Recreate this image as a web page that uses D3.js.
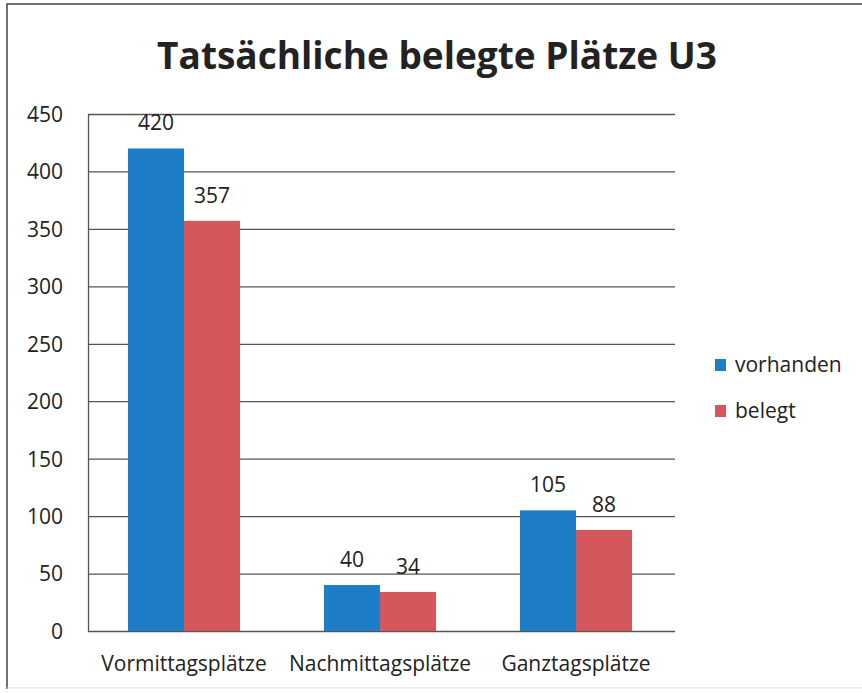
<!DOCTYPE html>
<html><head><meta charset="utf-8">
<script src="https://cdn.jsdelivr.net/npm/d3@7"></script>
<style>body{margin:0;background:#fff}svg{display:block}text{font-family:"Open Sans",Lato,sans-serif;fill:#222}</style>
</head><body><svg id="c" width="862" height="693"></svg>
<script>
const categories = ["Vormittagsplätze", "Nachmittagsplätze", "Ganztagsplätze"];
const seriesNames = ["vorhanden", "belegt"];
const vorhanden = [420, 40, 105];
const belegt = [357, 34, 88];
const yTicks = [0, 50, 100, 150, 200, 250, 300, 350, 400, 450];
const title = "Tatsächliche belegte Plätze U3";

const colors = {vorhanden: "#1d7dc7", belegt: "#d4575c"};
const FONT = "Open Sans";
const FS = 21;
const svg = d3.select("#c");

// outer frame (scan border)
svg.append("path").attr("d", "M7,689 V4 H862").attr("fill", "none").attr("stroke", "#444").attr("stroke-width", 1.5);
svg.append("line").attr("x1", 7).attr("x2", 862).attr("y1", 688).attr("y2", 688).attr("stroke", "#ddd").attr("stroke-width", 1);

const x = d3.scaleBand().domain(categories).range([86, 674]).paddingInner(0).paddingOuter(0);
const xs = d3.scaleBand().domain(seriesNames).range([0, x.bandwidth()]).paddingInner(0).paddingOuter(0.75);
const y = d3.scaleLinear().domain([0, 450]).range([631, 114]);

// gridlines
svg.append("g").selectAll("line").data(yTicks).join("line")
  .attr("x1", 88).attr("x2", 675)
  .attr("y1", d => y(d) + 0.5).attr("y2", d => y(d) + 0.5)
  .attr("stroke", "#555").attr("stroke-width", 1.3);
// vertical axis
svg.append("line").attr("x1", 88.5).attr("x2", 88.5).attr("y1", y(450)).attr("y2", y(0))
  .attr("stroke", "#555").attr("stroke-width", 1.3);

// y axis labels
const yAxis = d3.axisLeft(y).tickValues(yTicks).tickSize(0).tickPadding(0);
const gy = svg.append("g").attr("transform", "translate(63,0)").call(yAxis);
gy.select(".domain").remove();
gy.selectAll("text").attr("font-size", FS).attr("font-family", FONT).attr("fill", "#222").attr("dy", "0.35em");

// bars
const rows = categories.map((c, i) => ({cat: c, vals: [{s: "vorhanden", v: vorhanden[i]}, {s: "belegt", v: belegt[i]}]}));
const g = svg.append("g").selectAll("g").data(rows).join("g")
  .attr("transform", d => `translate(${x(d.cat)},0)`);
g.selectAll("rect").data(d => d.vals).join("rect")
  .attr("x", d => xs(d.s)).attr("width", xs.bandwidth())
  .attr("y", d => y(d.v)).attr("height", d => y(0) - y(d.v))
  .attr("fill", d => colors[d.s]);
g.selectAll("text.lab").data(d => d.vals).join("text").attr("class", "lab")
  .attr("x", d => xs(d.s) + xs.bandwidth() / 2).attr("y", d => y(d.v) - 18)
  .attr("text-anchor", "middle").attr("font-size", FS).text(d => d.v);

// x axis labels
const xAxis = d3.axisBottom(x).tickSize(0).tickPadding(0);
const gx = svg.append("g").attr("transform", "translate(0,656)").call(xAxis);
gx.select(".domain").remove();
gx.selectAll("text").attr("font-size", FS).attr("font-family", FONT).attr("fill", "#222").attr("dy", "0.71em");

// title
svg.append("text").attr("x", 437).attr("y", 69).attr("text-anchor", "middle")
  .attr("font-size", 37).attr("font-weight", "bold").attr("fill", "#333").text(title);

// legend
const lg = svg.append("g").selectAll("g").data(seriesNames).join("g")
  .attr("transform", (d, i) => `translate(715,${365 + i * 46})`);
lg.append("rect").attr("x", 0).attr("y", -6).attr("width", 11).attr("height", 12).attr("fill", d => colors[d]);
lg.append("text").attr("x", 20).attr("y", 0).attr("dy", "0.35em").attr("font-size", FS).text(d => d);
</script></body></html>
